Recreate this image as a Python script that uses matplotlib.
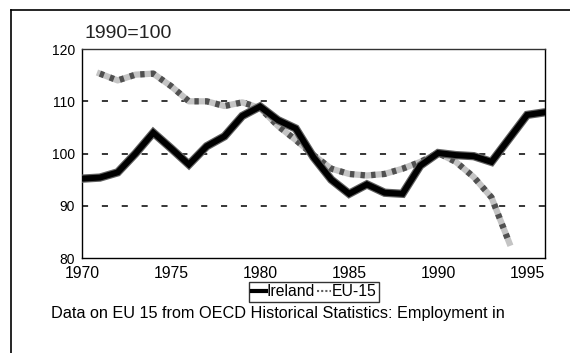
import matplotlib
matplotlib.use("Agg")
import matplotlib.pyplot as plt
from matplotlib.lines import Line2D

plt.rcParams['font.family'] = ['Liberation Sans', 'DejaVu Sans']

# Employment index, 1990=100
years_irl = list(range(1970, 1997))
ireland = [95.2, 95.4, 96.4, 100.0, 104.0, 101.0, 97.9, 101.4, 103.3, 107.2,
           109.0, 106.4, 104.8, 99.3, 95.0, 92.3, 94.1, 92.5, 92.3, 97.7,
           100.1, 99.7, 99.5, 98.4, 102.9, 107.4, 107.9]

years_eu = list(range(1971, 1995))
eu15 = [115.3, 114.0, 115.1, 115.3, 112.9, 110.0, 110.0, 109.1, 109.8, 108.7,
        105.3, 102.6, 99.7, 97.1, 96.1, 95.8, 96.1, 97.1, 98.4, 100.1,
        98.4, 95.5, 91.6, 82.9]

xticks = [1970, 1975, 1980, 1985, 1990, 1995]
yticks = [80, 90, 100, 110, 120]

fig = plt.figure(figsize=(5.7, 3.53), dpi=100)
ax = fig.add_axes([0.144, 0.269, 0.812, 0.592])

for y in [90, 100, 110]:
    ax.axhline(y, color='black', lw=1.1, linestyle=(0, (4, 9)), zorder=1)

# Ireland: heavy black line with a grey fringe
ax.plot(years_irl, ireland, color='#606060', lw=6, solid_joinstyle='miter', zorder=3)
ax.plot(years_irl, ireland, color='black', lw=4.3, solid_joinstyle='miter', zorder=4)

# EU-15: checkered grey line
ax.plot(years_eu, eu15, color='#c4c4c4', lw=4.5, zorder=2)
ax.plot(years_eu, eu15, color='#505050', lw=4.5, linestyle=(0, (0.7, 1.0)), zorder=2)

h_irl = Line2D([], [], color='black', lw=3, label='Ireland')
h_eu = Line2D([], [], color='#606060', lw=1.5, linestyle=(0, (1, 1)), label='EU-15')

ax.set_xlim(1970, 1996)
ax.set_ylim(80, 120)
ax.set_xticks(xticks)
ax.set_yticks(yticks)
ax.tick_params(axis='y', length=0, labelsize=10, pad=5)
ax.tick_params(axis='x', length=0, labelsize=11.3, pad=5.5)
for s in ax.spines.values():
    s.set_linewidth(1)
ax.spines['top'].set_color('#333333')

fig.text(0.149, 0.905, '1990=100', fontsize=14, color='#222222', va='center')

leg = fig.legend(handles=[h_irl, h_eu], loc='center', bbox_to_anchor=(0.551, 0.173),
                 ncol=2, frameon=True, fancybox=False, handlelength=0.9,
                 handletextpad=0.05, columnspacing=0.1, borderpad=0.15,
                 borderaxespad=0, fontsize=11.3)
leg.get_frame().set_edgecolor('black')
leg.get_frame().set_linewidth(1)

fig.text(0.488, 0.111, 'Data on EU 15 from OECD Historical Statistics: Employment in',
         fontsize=11.7, ha='center', va='center')

# outer border (top and left edges only show)
fig.add_artist(Line2D([0.019, 1.0], [0.972, 0.972], color='black', lw=1.2))
fig.add_artist(Line2D([0.019, 0.019], [0.0, 0.972], color='black', lw=1.2))

fig.savefig('out.png', dpi=100)
